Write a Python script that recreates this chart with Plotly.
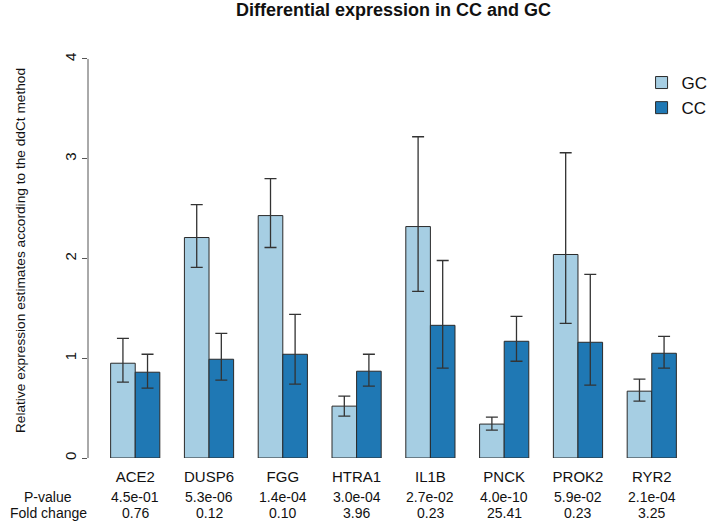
import plotly.graph_objects as go

genes = ["ACE2", "DUSP6", "FGG", "HTRA1", "IL1B", "PNCK", "PROK2", "RYR2"]

gc_values = [0.95, 2.21, 2.43, 0.52, 2.32, 0.34, 2.04, 0.67]
gc_upper = [1.20, 2.54, 2.80, 0.62, 3.22, 0.41, 3.06, 0.79]
gc_lower = [0.76, 1.91, 2.11, 0.42, 1.67, 0.28, 1.35, 0.57]

cc_values = [0.86, 0.99, 1.04, 0.87, 1.33, 1.17, 1.16, 1.05]
cc_upper = [1.04, 1.25, 1.44, 1.04, 1.98, 1.42, 1.84, 1.22]
cc_lower = [0.70, 0.78, 0.74, 0.72, 0.90, 0.97, 0.73, 0.90]

p_values = ["4.5e-01", "5.3e-06", "1.4e-04", "3.0e-04", "2.7e-02", "4.0e-10", "5.9e-02", "2.1e-04"]
fold_changes = ["0.76", "0.12", "0.10", "3.96", "0.23", "25.41", "0.23", "3.25"]

y_ticks = [0, 1, 2, 3, 4]

FONT = "Liberation Sans, Arial, sans-serif"
EDGE = "#2a2a2a"


def err(values, upper, lower):
    return dict(
        type="data",
        symmetric=False,
        array=[u - v for u, v in zip(upper, values)],
        arrayminus=[v - l for v, l in zip(values, lower)],
        color="#333333",
        thickness=1.3,
        width=6,
    )


fig = go.Figure()
fig.add_trace(go.Bar(
    name="GC", x=genes, y=gc_values,
    marker=dict(color="#A6CEE3", line=dict(color=EDGE, width=1)),
    error_y=err(gc_values, gc_upper, gc_lower),
))
fig.add_trace(go.Bar(
    name="CC", x=genes, y=cc_values,
    marker=dict(color="#1F78B4", line=dict(color=EDGE, width=1)),
    error_y=err(cc_values, cc_upper, cc_lower),
))

txt_font = dict(size=14, color="#111111", family=FONT)
ROW1, ROW2 = -39, -55
annotations = []
for g, p, f in zip(genes, p_values, fold_changes):
    annotations.append(dict(x=g, xref="x", y=0, yref="paper", yshift=ROW1, text=p,
                            showarrow=False, xanchor="center", yanchor="middle",
                            borderpad=0, font=txt_font))
    annotations.append(dict(x=g, xref="x", y=0, yref="paper", yshift=ROW2, text=f,
                            showarrow=False, xanchor="center", yanchor="middle",
                            borderpad=0, font=txt_font))
annotations.append(dict(x=0, xref="paper", xshift=-40, y=0, yref="paper", yshift=ROW1,
                        text="P-value", showarrow=False, xanchor="center", yanchor="middle",
                        borderpad=0, font=txt_font))
annotations.append(dict(x=0, xref="paper", xshift=-40, y=0, yref="paper", yshift=ROW2,
                        text="Fold change", showarrow=False, xanchor="center", yanchor="middle",
                        borderpad=0, font=txt_font))

fig.update_layout(
    width=725, height=527,
    margin=dict(l=88, r=18, t=43, b=69),
    paper_bgcolor="white", plot_bgcolor="white",
    barmode="group", bargap=1/3, bargroupgap=0,
    font=dict(family=FONT, color="#111111"),
    title=dict(text="<b>Differential expression in CC and GC</b>",
               x=0.5, xref="paper", xanchor="center",
               y=1 - 10 / 527, yref="container", yanchor="middle",
               font=dict(size=18, color="#111111", family=FONT)),
    xaxis=dict(type="category", range=[-0.64, 7.64], showline=False, ticks="",
               showgrid=False, zeroline=False, ticklabelstandoff=8,
               tickfont=dict(size=15, color="#111111")),
    yaxis=dict(range=[0, 4.16], tickvals=y_ticks, ticks="outside", ticklen=5,
               tickcolor="#555555", tickwidth=1, tickangle=-90,
               showline=False, showgrid=False, zeroline=False,
               tickfont=dict(size=15, color="#111111"),
               title=dict(text="Relative expression estimates according to the ddCt method",
                          font=dict(size=13.7, color="#111111"), standoff=33)),
    legend=dict(x=0.906, xanchor="left", y=0.947, yanchor="top",
                font=dict(size=17, color="#111111"), bgcolor="rgba(0,0,0,0)",
                traceorder="normal"),
    annotations=annotations,
    shapes=[dict(type="line", xref="paper", x0=0, x1=0, yref="y", y0=0, y1=4,
                 line=dict(color="#555555", width=1))],
)

fig.write_html("out.html",
               config={"displayModeBar": False},
               post_script="document.body.style.margin='0';document.body.style.padding='0';")
